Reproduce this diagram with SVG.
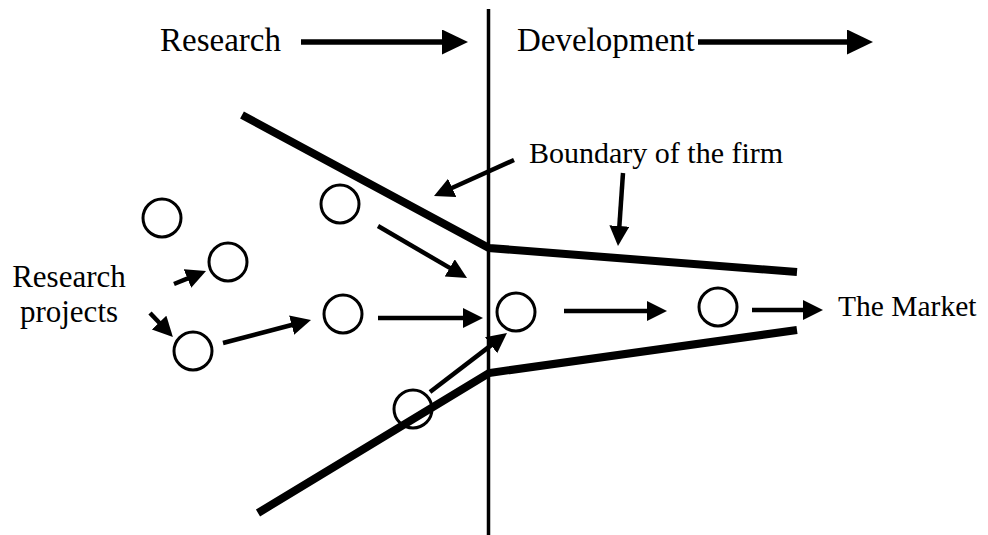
<svg xmlns="http://www.w3.org/2000/svg" width="988" height="535" viewBox="0 0 988 535">
  <style>
    text { font-family: 'Liberation Serif', 'Times New Roman', Times, 'DejaVu Serif', serif; fill: #000; }
    .node { fill: #fff; stroke: #000; stroke-width: 3; }
    .open { fill: none; }
    .bound { stroke: #000; stroke-width: 8; fill: none; stroke-linecap: butt; stroke-linejoin: miter; }
    .flow { stroke: #000; stroke-width: 4.5; fill: none; }
    .phase { stroke: #000; stroke-width: 5.5; fill: none; }
    .divider { stroke: #000; stroke-width: 3.5; }
  </style>
  <defs>
    <marker id="head" markerUnits="userSpaceOnUse" markerWidth="21" markerHeight="21" refX="1" refY="10" orient="auto" viewBox="0 0 21 21">
      <path d="M0,0 L20,10 L0,20 z" fill="#000"/>
    </marker>
    <marker id="headBig" markerUnits="userSpaceOnUse" markerWidth="27" markerHeight="26" refX="1" refY="12.5" orient="auto" viewBox="0 0 27 26">
      <path d="M0,0 L26,12.5 L0,25 z" fill="#000"/>
    </marker>
  </defs>

  <!-- Research / Development divider -->
  <line class="divider" x1="488.5" y1="9" x2="488.5" y2="535"/>

  <!-- phase headings -->
  <g id="research-heading">
    <text x="160" y="51" font-size="33" font-family="Liberation Serif, serif">Research</text>
  </g>
  <g id="development-heading">
    <text x="517" y="51" font-size="33" font-family="Liberation Serif, serif">Development</text>
  </g>

  <!-- boundary of the firm (funnel) -->
  <g id="boundary">
    <polyline class="bound" points="242,115 489,248 797,272"/>
    <polyline class="bound" points="258,513 489,373 797,330"/>
  </g>

  <g id="boundary-label">
    <text x="529" y="163" font-size="30" font-family="Liberation Serif, serif">Boundary of the firm</text>
  </g>
  <g id="projects-label">
    <text x="69" y="287" font-size="31" text-anchor="middle" font-family="Liberation Serif, serif">Research</text>
    <text x="69" y="322" font-size="31" text-anchor="middle" font-family="Liberation Serif, serif">projects</text>
  </g>
  <g id="market-label">
    <text x="838" y="316" font-size="29.5" font-family="Liberation Serif, serif">The Market</text>
  </g>

  <!-- connectors -->
  <g id="connectors">
    <line class="phase" x1="301" y1="42" x2="443" y2="42" marker-end="url(#headBig)"/>
    <line class="phase" x1="698" y1="42" x2="848" y2="42" marker-end="url(#headBig)"/>
    <line class="flow" x1="514" y1="160" x2="451.3" y2="188.2" marker-end="url(#head)"/>
    <line class="flow" x1="623" y1="173" x2="619.3" y2="227" marker-end="url(#head)"/>
    <line class="flow" x1="378" y1="226" x2="450.6" y2="268.4" marker-end="url(#head)"/>
    <line class="flow" x1="378" y1="318" x2="464" y2="318" marker-end="url(#head)"/>
    <line class="flow" x1="223" y1="343" x2="292.6" y2="324.8" marker-end="url(#head)"/>
    <line class="flow" x1="174" y1="284" x2="188.4" y2="278.2" marker-end="url(#head)"/>
    <line class="flow" x1="150" y1="313" x2="159.8" y2="323.3" marker-end="url(#head)"/>
    <line class="flow" x1="430" y1="392" x2="491.9" y2="344.6" marker-end="url(#head)"/>
    <line class="flow" x1="564" y1="311" x2="648" y2="311" marker-end="url(#head)"/>
    <line class="flow" x1="752" y1="310" x2="804" y2="310" marker-end="url(#head)"/>
  </g>

  <!-- research projects -->
  <g id="p1"><circle class="node" cx="162" cy="218" r="19"/></g>
  <g id="p2"><circle class="node" cx="228" cy="262" r="19"/></g>
  <g id="p3"><circle class="node" cx="193" cy="351" r="19"/></g>
  <g id="p4"><circle class="node" cx="340" cy="204" r="19"/></g>
  <g id="p5"><circle class="node" cx="343" cy="314" r="19"/></g>
  <g id="p6"><circle class="node open" cx="413" cy="409" r="19"/></g>
  <g id="p7"><circle class="node" cx="516" cy="312" r="19"/></g>
  <g id="p8"><circle class="node" cx="718" cy="307" r="19"/></g>
</svg>
